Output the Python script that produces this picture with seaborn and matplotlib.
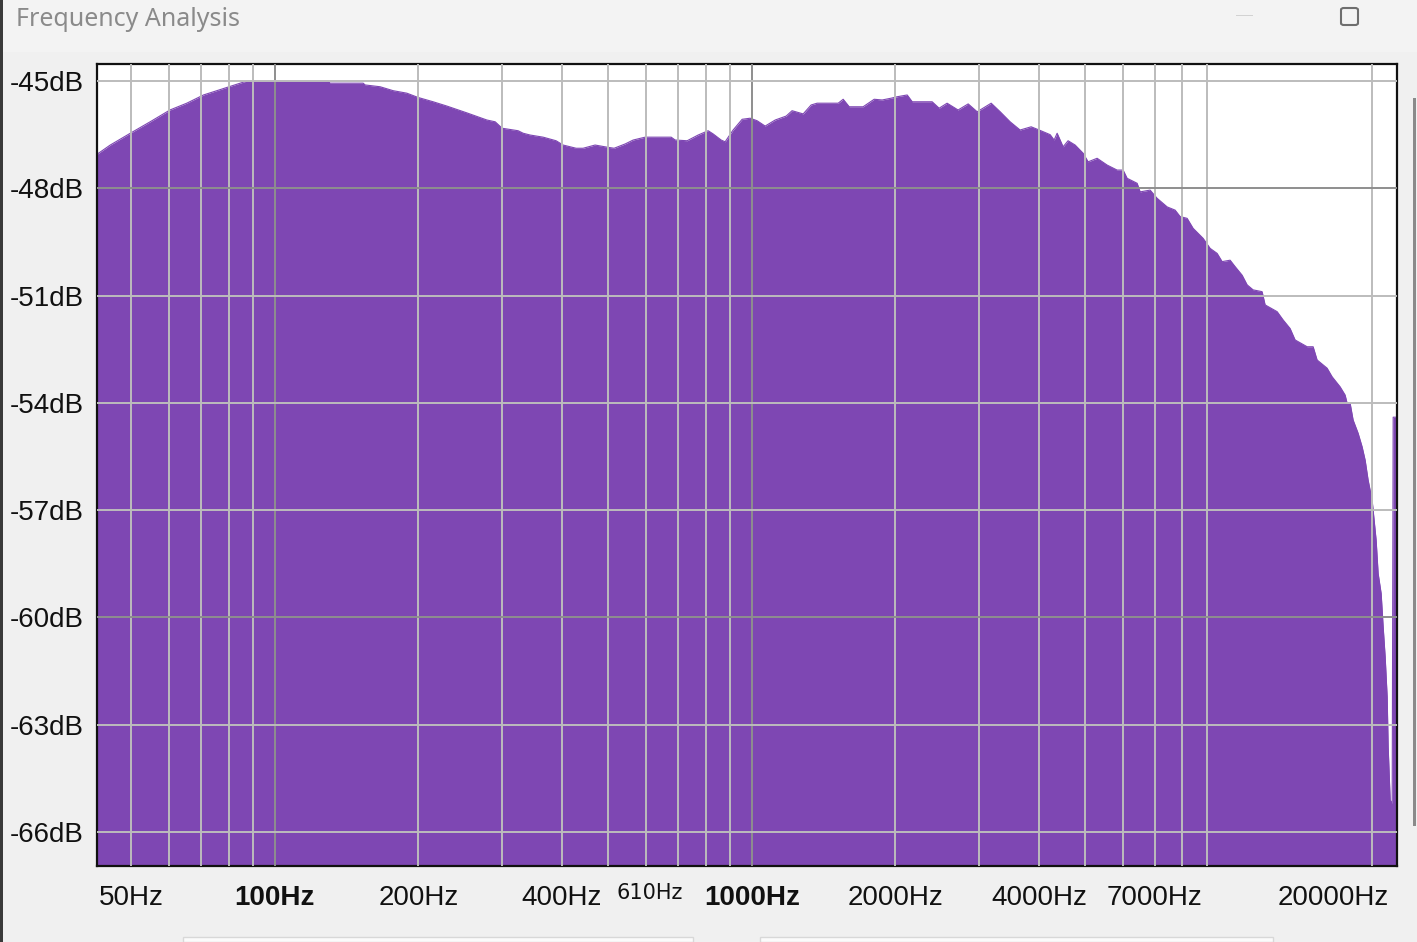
import numpy as np
import pandas as pd
import seaborn as sns
import matplotlib.pyplot as plt
from matplotlib.ticker import FixedLocator, FixedFormatter
from matplotlib.patches import Rectangle, FancyBboxPatch
from matplotlib.transforms import ScaledTranslation

# spectrum (Hz, dB)
freq_hz = [42.4, 42.7, 45.2, 49.8, 54.8, 60.3, 65.4, 70.9, 79.3, 87.4,
           100, 113, 129.4, 130.6, 153.2, 154.7, 166.3, 177.1, 189.2, 199.8,
           214.8, 229.5, 252.7, 278.4, 289.8, 299.7, 323.8, 331.7, 343.1, 365.3,
           388.9, 402.3, 428.4, 443.1, 469.5, 497.6, 514.6, 542.8, 564.2, 597.8,
           636.6, 677.8, 691.0, 732.2, 772.1, 810.3, 830.1, 862.7, 879.5, 914.1,
           954.8, 992.2, 1026, 1067, 1120, 1181, 1215, 1282, 1332, 1371,
           1518, 1555, 1601, 1712, 1806, 1877, 1960, 2017, 2118, 2170,
           2298, 2389, 2471, 2568, 2708, 2843, 2969, 3177, 3318, 3481,
           3653, 3853, 4005, 4223, 4305, 4368, 4496, 4605, 4764, 4952,
           5073, 5298, 5560, 5834, 6006, 6124, 6427, 6521, 6842, 7078,
           7429, 7720, 7909, 8181, 8422, 8838, 9142, 9456, 9687, 10068,
           10314, 10669, 10930, 11250, 11749, 11921, 12634, 13002, 13449, 13778,
           14600, 15030, 15321, 16080, 16473, 17120, 17539, 17710, 17969, 18232,
           18678, 19042, 19320, 19601, 19983, 20178, 20374, 20572, 20873, 21076,
           21281, 21488, 21592, 21803, 22015, 22120, 22450]
level_db = [-47.05, -47.02, -46.79, -46.46, -46.14, -45.81, -45.62, -45.39, -45.18, -45.0,
            -45.0, -45.0, -45.0, -45.06, -45.06, -45.11, -45.16, -45.27, -45.34, -45.46,
            -45.58, -45.70, -45.89, -46.09, -46.14, -46.32, -46.39, -46.46, -46.51, -46.57,
            -46.67, -46.79, -46.88, -46.88, -46.79, -46.85, -46.88, -46.76, -46.65, -46.57,
            -46.57, -46.57, -46.65, -46.67, -46.51, -46.39, -46.48, -46.65, -46.70, -46.37,
            -46.07, -46.04, -46.11, -46.26, -46.09, -45.98, -45.83, -45.92, -45.67, -45.62,
            -45.62, -45.51, -45.72, -45.72, -45.51, -45.53, -45.48, -45.44, -45.39, -45.58,
            -45.58, -45.58, -45.76, -45.62, -45.81, -45.64, -45.86, -45.62, -45.86, -46.14,
            -46.37, -46.28, -46.37, -46.50, -46.65, -46.46, -46.84, -46.67, -46.79, -47.02,
            -47.26, -47.16, -47.35, -47.49, -47.49, -47.72, -47.86, -48.10, -48.05, -48.28,
            -48.52, -48.61, -48.79, -48.84, -49.12, -49.40, -49.68, -49.82, -50.05, -50.01,
            -50.19, -50.43, -50.70, -50.84, -50.89, -51.26, -51.45, -51.68, -51.92, -52.24,
            -52.43, -52.43, -52.80, -53.03, -53.27, -53.55, -53.78, -54.01, -54.01, -54.48,
            -54.85, -55.23, -55.60, -56.16, -56.72, -57.28, -57.84, -58.77, -59.33, -60.26,
            -61.10, -62.22, -63.62, -65.11, -65.20, -54.40, -54.40]

# axis ticks / labels
x_major = [100, 1000]
x_major_labels = ['100Hz', '1000Hz']
x_minor = [50, 60, 70, 80, 90, 200, 300, 400, 500, 600, 610, 700, 800, 900,
           2000, 3000, 4000, 5000, 6000, 7000, 8000, 9000, 20000]
x_minor_labels = ['50Hz', '', '', '', '', '200Hz', '', '400Hz', '', '', '610Hz', '', '', '',
                  '2000Hz', '', '4000Hz', '', '', '7000Hz', '', '', '20000Hz']
y_major = [-60, -48]
y_minor = [-66.95, -66, -63, -57, -54, -51, -45]
y_minor_labels = ['', '-66dB', '-63dB', '-57dB', '-54dB', '-51dB', '-45dB']

x_lim = (42.4, 22500)
y_lim = (-66.95, -44.51)
purple = '#7e47b3'

sns.set_style('white')
plt.rcParams['font.family'] = ['Liberation Sans', 'DejaVu Sans']

df = pd.DataFrame({'freq': freq_hz, 'db': level_db})

W, H = 1417, 942
fig = plt.figure(figsize=(W / 100, H / 100), dpi=100, facecolor='#f0f0f0')

# window chrome
fig.add_artist(Rectangle((0, 1 - 52 / H), 1, 52 / H, transform=fig.transFigure,
                         facecolor='#f3f3f3', edgecolor='none', zorder=0))
fig.add_artist(Rectangle((0, 0), 3 / W, 1, transform=fig.transFigure,
                         facecolor='#3a3a3a', edgecolor='none', zorder=5))
fig.add_artist(Rectangle((1413 / W, 1 - 826 / H), 3 / W, 728 / H, transform=fig.transFigure,
                         facecolor='#8a8a8a', edgecolor='none'))
fig.add_artist(Rectangle((1236 / W, 1 - 16 / H), 17 / W, 1 / H, transform=fig.transFigure,
                         facecolor='#d2d2d2', edgecolor='none'))
fig.add_artist(FancyBboxPatch((1341 / W, 1 - 25 / H), 17 / W, 17 / H, transform=fig.transFigure,
                              boxstyle='round,pad=0,rounding_size=0.002',
                              facecolor='none', edgecolor='#6e6e6e', lw=1.5))
for x0, x1 in [(183, 693), (760, 1273)]:
    fig.add_artist(Rectangle((x0 / W, 0), (x1 - x0) / W, 5 / H, transform=fig.transFigure,
                             facecolor='#fbfbfb', edgecolor='#d8d8d8', lw=1))
fig.text(16 / W, 1 - 20 / H, 'Frequency Analysis', color='#8a8a8a', fontsize=18,
         va='center', ha='left', family=['Noto Sans', 'DejaVu Sans'])

ax = fig.add_axes([97 / W, 76 / H, 1299.7 / W, 802.5 / H])
ax.set_facecolor('white')
ax.set_xscale('log')

ax.fill_between(df['freq'], df['db'], y_lim[0], color=purple, lw=0, zorder=1)
sns.lineplot(data=df, x='freq', y='db', ax=ax, color=purple, lw=0.8, zorder=1.2)

ax.set_xlim(*x_lim)
ax.set_ylim(*y_lim)
ax.set_xlabel('')
ax.set_ylabel('')

# ticks
ax.xaxis.set_major_locator(FixedLocator(x_major))
ax.xaxis.set_major_formatter(FixedFormatter(x_major_labels))
ax.xaxis.set_minor_locator(FixedLocator(x_minor))
ax.xaxis.set_minor_formatter(FixedFormatter(x_minor_labels))
ax.yaxis.set_major_locator(FixedLocator(y_major))
ax.yaxis.set_major_formatter(FixedFormatter(['-60dB', '-48dB']))
ax.yaxis.set_minor_locator(FixedLocator(y_minor))
ax.yaxis.set_minor_formatter(FixedFormatter(y_minor_labels))

ax.tick_params(axis='x', which='major', length=9, width=1.5, direction='out',
               labelsize=20, pad=5, colors='#111111')
ax.tick_params(axis='x', which='minor', length=6, width=1.5, direction='out',
               labelsize=20, pad=8, colors='#111111')
ax.tick_params(axis='y', which='both', length=9, width=1.5, direction='out',
               labelsize=20, pad=0.5, colors='#111111')
for lab in ax.xaxis.get_majorticklabels():
    lab.set_fontweight('bold')

# grid over the spectrum
ax.set_axisbelow(False)
ax.grid(which='major', color='#8e8e8e', lw=1.4)
ax.grid(which='minor', color='#bcbcbc', lw=1.4)

for i, t in enumerate(ax.xaxis.get_minor_ticks()):
    if x_minor[i] == 610:
        t.gridline.set_visible(False)
        t.label1.set_fontsize(15)
        t.label1.set_fontfamily('DejaVu Sans')
        t.label1.set_transform(t.label1.get_transform() + ScaledTranslation(0, 0.02, fig.dpi_scale_trans))
    if x_minor[i] == 20000:
        t.label1.set_horizontalalignment('right')
        t.label1.set_transform(t.label1.get_transform() + ScaledTranslation(0.17, 0, fig.dpi_scale_trans))
ax.yaxis.get_minor_ticks()[0].gridline.set_visible(False)

for s in ax.spines.values():
    s.set_color('#111111')
    s.set_linewidth(1.6)

fig.savefig('out.png', dpi=100, facecolor=fig.get_facecolor())
